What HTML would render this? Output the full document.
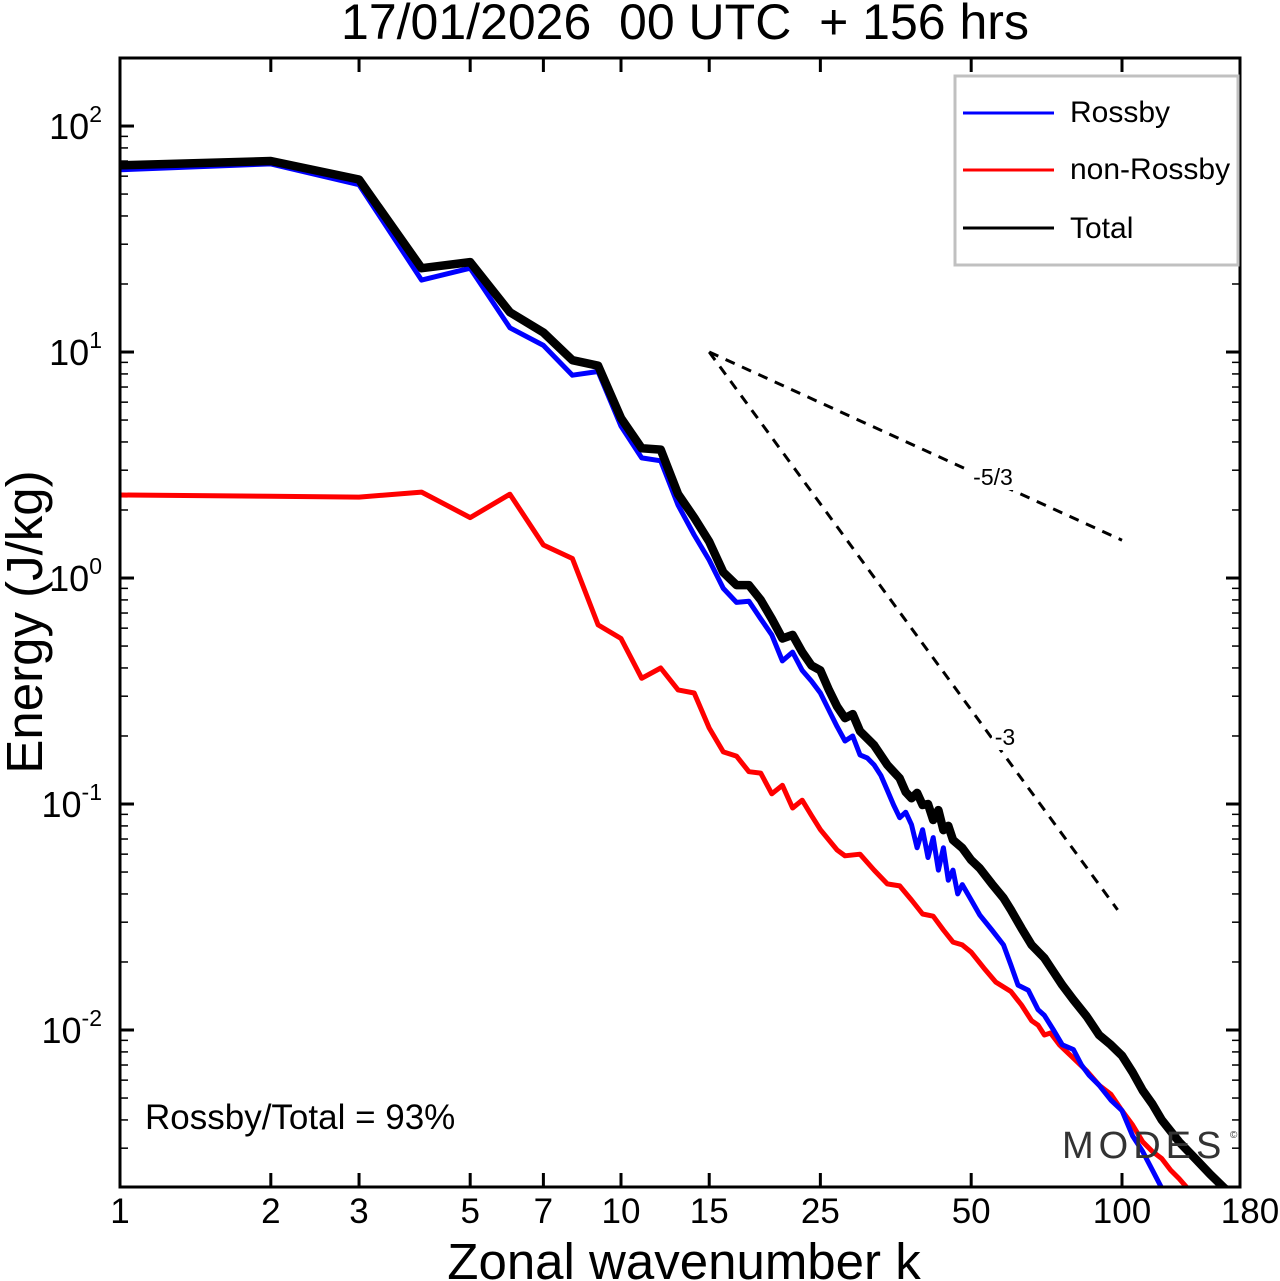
<!DOCTYPE html>
<html><head><meta charset="utf-8"><style>
html,body{margin:0;padding:0;background:#fff;}
svg{display:block;font-family:"Liberation Sans",sans-serif;}
</style></head><body>
<svg id="chart" width="1280" height="1281" xmlns="http://www.w3.org/2000/svg">
<rect width="1280" height="1281" fill="#fff"/>
<text x="685" y="39" font-size="50" text-anchor="middle" style="white-space:pre">17/01/2026  00 UTC  + 156 hrs</text>
<text x="684" y="1279" font-size="51" text-anchor="middle">Zonal wavenumber k</text>
<text transform="translate(42,622) rotate(-90)" font-size="51" text-anchor="middle">Energy (J/kg)</text>
<defs><clipPath id="plotclip"><rect x="120" y="58" width="1120" height="1129"/></clipPath></defs>
<g id="ticks"></g>
<g id="series" clip-path="url(#plotclip)"></g>
<rect x="968" y="466" width="50" height="24" fill="#fff"/>
<text x="993" y="485" font-size="23" text-anchor="middle">-5/3</text>
<rect x="992" y="726" width="28" height="24" fill="#fff"/>
<text x="1005" y="745" font-size="23" text-anchor="middle">-3</text>
<text x="145" y="1129" font-size="35">Rossby/Total = 93%</text>
<text x="1062" y="1158" font-size="38" fill="#333" letter-spacing="5">MODES</text>
<text x="1230" y="1138" font-size="10" fill="#333">©</text>
<rect x="120" y="58" width="1120" height="1129" fill="none" stroke="#000" stroke-width="3"/>
<g>
<rect x="955" y="76" width="283" height="189" fill="#fff" stroke="#c0c0c0" stroke-width="3"/>
<line x1="963" y1="113" x2="1054" y2="113" stroke="#0000ff" stroke-width="3"/>
<text x="1070" y="122" font-size="30">Rossby</text>
<line x1="963" y1="170" x2="1054" y2="170" stroke="#ff0000" stroke-width="3"/>
<text x="1070" y="179" font-size="30">non-Rossby</text>
<line x1="963" y1="228" x2="1054" y2="228" stroke="#000" stroke-width="3"/>
<text x="1070" y="238" font-size="30">Total</text>
</g>
</svg>
<script>
const totalK=[1,2,3,4,5,6,7,8,9,10,11,12,13,14,15,16,17,18,19,20,21,22,23,24,25,26,27,28,29,30,32,34,36,37,38,39,40,41,42,43,44,45,46,48,50,52,55,58,60,63,66,70,73,76,80,85,90,95,100,105,110,115,120,130,140,150,160,165];
const totalE=[67,70,58,23.5,25,15,12.2,9.2,8.7,5.1,3.75,3.7,2.35,1.85,1.45,1.06,0.93,0.93,0.80,0.66,0.54,0.56,0.47,0.41,0.39,0.32,0.27,0.24,0.25,0.21,0.182,0.149,0.130,0.113,0.106,0.112,0.099,0.1,0.085,0.094,0.0767,0.080,0.0693,0.0639,0.0565,0.052,0.0443,0.0384,0.034,0.0282,0.0238,0.0208,0.0181,0.0158,0.0136,0.0115,0.0095,0.0086,0.0077,0.0065,0.0054,0.0047,0.0040,0.0032,0.0027,0.0023,0.0020,0.0019];
const rossbyK=[1,2,3,4,5,6,7,8,9,10,11,12,13,14,15,16,17,18,19,20,21,22,23,24,25,26,27,28,29,30,31,32,33,34,35,36,37,38,39,40,41,42,43,44,45,46,47,48,50,52,55,58,60,62,65,68,70,73,76,80,83,86,90,95,100,105,110,115,120];
const rossbyE=[64,68,55,20.8,23.5,12.8,10.7,7.9,8.2,4.7,3.4,3.3,2.1,1.55,1.2,0.9,0.78,0.79,0.66,0.56,0.43,0.47,0.39,0.35,0.31,0.26,0.22,0.19,0.2,0.165,0.160,0.149,0.134,0.115,0.099,0.087,0.092,0.081,0.064,0.077,0.058,0.071,0.051,0.064,0.046,0.051,0.040,0.044,0.0376,0.0323,0.0277,0.0238,0.0194,0.0158,0.015,0.0123,0.0116,0.010,0.0086,0.0082,0.0070,0.0063,0.0057,0.0049,0.0044,0.0034,0.0029,0.0024,0.0020];
const nonRossbyK=[1,2,3,4,5,6,7,8,9,10,11,12,13,14,15,16,17,18,19,20,21,22,23,24,25,27,28,30,32,34,36,38,40,42,44,46,48,50,53,56,60,63,66,68,70,72,75,80,85,90,95,100,105,110,115,120,125,130,135];
const nonRossbyE=[2.33,2.3,2.28,2.4,1.85,2.35,1.4,1.22,0.62,0.54,0.36,0.4,0.32,0.31,0.217,0.170,0.163,0.139,0.137,0.111,0.121,0.096,0.104,0.089,0.077,0.0626,0.059,0.060,0.051,0.0443,0.0434,0.0376,0.0326,0.0319,0.0277,0.0245,0.0238,0.0221,0.0188,0.0163,0.0148,0.0129,0.011,0.0105,0.0095,0.0097,0.0086,0.0075,0.0066,0.0057,0.0052,0.0044,0.0038,0.0032,0.0029,0.0027,0.0024,0.0022,0.0020];
const slope53K=[15,100];
const slope53E=[10,1.47];
const slope3K=[15,98];
const slope3E=[10,0.034];
const xTickVals=[1,2,3,5,7,10,15,25,50,100];
const xTickLabels=["1","2","3","5","7","10","15","25","50","100"];
const yDecades=[-2,-1,0,1,2];

const L=120,R=1240,T=58,B=1187;
const xMin=1,xMax=172,yMin=0.00202,yMax=200;
function xs(k){return L+(Math.log10(k)-Math.log10(xMin))/(Math.log10(xMax)-Math.log10(xMin))*(R-L);}
function ys(v){return B-(Math.log10(v)-Math.log10(yMin))/(Math.log10(yMax)-Math.log10(yMin))*(B-T);}
const NS="http://www.w3.org/2000/svg";
function mk(tag,attrs,parent){const e=document.createElementNS(NS,tag);for(const a in attrs)e.setAttribute(a,attrs[a]);parent.appendChild(e);return e;}
const tk=document.getElementById('ticks');
const svg=document.getElementById('chart');
xTickVals.forEach((v,i)=>{
  const x=xs(v);
  let t=mk('line',{x1:x,y1:B,x2:x,y2:B-14,stroke:'#000','stroke-width':3},tk);
  
  
  let t2=mk('line',{x1:x,y1:T,x2:x,y2:T+14,stroke:'#000','stroke-width':3},tk);
  
  
  let lb=mk('text',{x:x,y:1223,'font-size':35,'text-anchor':'middle'},svg);
  lb.textContent=xTickLabels[i];
  
  
});
let lb180=mk('text',{x:1250,y:1223,'font-size':35,'text-anchor':'middle'},svg);
lb180.textContent="180";


yDecades.forEach(d=>{
  const y=ys(Math.pow(10,d));
  [[L,L+14],[R,R-14]].forEach(p=>{
    let t=mk('line',{x1:p[0],y1:y,x2:p[1],y2:y,stroke:'#000','stroke-width':3},tk);
    
    
  });
  for(let m=2;m<=9;m++){
    const v=m*Math.pow(10,d);
    if(v>yMax) break;
    const ym=ys(v);
    [[L,L+8],[R,R-8]].forEach(p=>{
      let t=mk('line',{x1:p[0],y1:ym,x2:p[1],y2:ym,stroke:'#000','stroke-width':1.5},tk);
      
      
    });
  }
  if(d===-2){
    for(let m=3;m<=9;m++){
      const ym=ys(m*0.001);
      [[L,L+8],[R,R-8]].forEach(p=>{
        let t=mk('line',{x1:p[0],y1:ym,x2:p[1],y2:ym,stroke:'#000','stroke-width':1.5},tk);
        
        
      });
    }
  }
  let lb=mk('text',{x:102,y:y+13,'font-size':36,'text-anchor':'end'},svg);
  
  
  lb.textContent='10';
  let sup=mk('tspan',{dy:-17,'font-size':23},lb);
  sup.textContent=String(d);
});
const sg=document.getElementById('series');
function line(K,E,color,w,name,dash){
  const pts=K.map((k,i)=>xs(k).toFixed(1)+','+ys(E[i]).toFixed(1)).join(' ');
  const a={points:pts,fill:'none',stroke:color,'stroke-width':w,'stroke-linejoin':'round','stroke-linecap':'round'};
  if(dash){a['stroke-dasharray']=dash;a['stroke-linecap']='butt';}
  const p=mk('polyline',a,sg);
  
  
}
line(slope53K,slope53E,'#000',3,'slope-line-5-3','10,8');
line(slope3K,slope3E,'#000',3,'slope-line-3','10,8');
line(nonRossbyK,nonRossbyE,'#ff0000',5,'series-non-rossby');
line(rossbyK,rossbyE,'#0000ff',5,'series-rossby');
line(totalK,totalE,'#000',8.5,'series-total');
</script>
</body></html>
